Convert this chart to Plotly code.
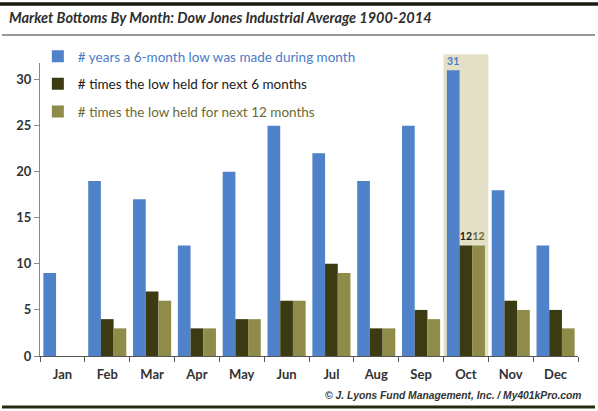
import plotly.graph_objects as go

months = ["Jan", "Feb", "Mar", "Apr", "May", "Jun", "Jul", "Aug", "Sep", "Oct", "Nov", "Dec"]
lows_made = [9, 19, 17, 12, 20, 25, 22, 19, 25, 31, 18, 12]
held_6m = [0, 4, 7, 3, 4, 6, 10, 3, 5, 12, 6, 5]
held_12m = [0, 3, 6, 3, 4, 6, 9, 3, 4, 12, 5, 3]
y_ticks = [0, 5, 10, 15, 20, 25, 30]
highlight = "Oct"

names = [
    "# years a 6-month low was made during month",
    "# times the low held for next 6 months",
    "# times the low held for next 12 months",
]
bar_colors = ["#4f82c9", "#3b3a12", "#8f8c4a"]
text_colors = ["#4a7bc8", "#1a1a1a", "#6b6a33"]
series = [lows_made, held_6m, held_12m]

fig = go.Figure()
hi = months.index(highlight)
fig.add_shape(type="rect", xref="x", yref="paper", x0=hi - 0.5, x1=hi + 0.5,
              y0=0, y1=1.03, fillcolor="#e4e0c8", line_width=0, layer="below")

for i, (nm, vals) in enumerate(zip(names, series)):
    fig.add_trace(go.Bar(
        x=months, y=vals,
        name=f"<span style='color:{text_colors[i]}'>{nm}</span>",
        legendgroup=str(i),
        marker=dict(color=bar_colors[i], line=dict(width=0)),
        text=[str(v) if m == highlight else "" for m, v in zip(months, vals)],
        textposition="outside",
        cliponaxis=False,
        textfont=dict(family="Lato", size=10.5, color=text_colors[i], weight="bold"),
    ))

fig.update_layout(
    width=598, height=411,
    margin=dict(l=40, r=20, t=63, b=55),
    paper_bgcolor="white", plot_bgcolor="rgba(0,0,0,0)",
    barmode="group", bargap=0.15, bargroupgap=0,
    showlegend=True,
    legend=dict(x=-0.004, y=1.075, xanchor="left", yanchor="top",
                bgcolor="rgba(0,0,0,0)", tracegroupgap=7,
                font=dict(family="Lato", size=13.5, color="#1a1a1a")),
    font=dict(family="Lato"),
)
fig.update_xaxes(
    showline=True, linecolor="#555", linewidth=1,
    ticks="outside", tickson="boundaries", ticklen=5, tickcolor="#555",
    tickfont=dict(family="Lato", size=13, color="#333", weight="bold"),
    ticklabelstandoff=6, showgrid=False,
)
fig.update_yaxes(
    range=[0, 31.8], tickvals=y_ticks,
    showline=True, linecolor="#888", linewidth=1,
    ticks="outside", ticklen=5, tickcolor="#888",
    tickfont=dict(family="Lato", size=13, color="#333", weight="bold"),
    showgrid=False, zeroline=False,
)

# frame lines
fig.add_shape(type="line", xref="paper", yref="paper", x0=-40/538, x1=558/538,
              y0=1 + 59/293, y1=1 + 59/293, line=dict(color="#1a1a10", width=3.5))
fig.add_shape(type="line", xref="paper", yref="paper", x0=-38/538, x1=555/538,
              y0=1 + 28/293, y1=1 + 28/293, line=dict(color="#777", width=1.5))
fig.add_shape(type="line", xref="paper", yref="paper", x0=-38/538, x1=555/538,
              y0=-51/293, y1=-51/293, line=dict(color="#2a2a12", width=3))

fig.add_annotation(
    text="<i><b>Market Bottoms By Month: Dow Jones Industrial Average 1900-2014</b></i>",
    xref="paper", yref="paper", x=-33/538, y=1 + 45/293, xanchor="left", yanchor="middle",
    showarrow=False, font=dict(family="Lato", size=14.5, color="#2e2e2e"),
)
fig.add_annotation(
    text="<i><b>© J. Lyons Fund Management, Inc. / My401kPro.com</b></i>",
    xref="paper", yref="paper", x=544/538, y=-39/293, xanchor="right", yanchor="middle",
    showarrow=False, font=dict(family="Liberation Sans", size=10.3, color="#333"),
)

fig.write_html("out.html", config={"displayModeBar": False},
               post_script="document.body.style.margin='0';")
